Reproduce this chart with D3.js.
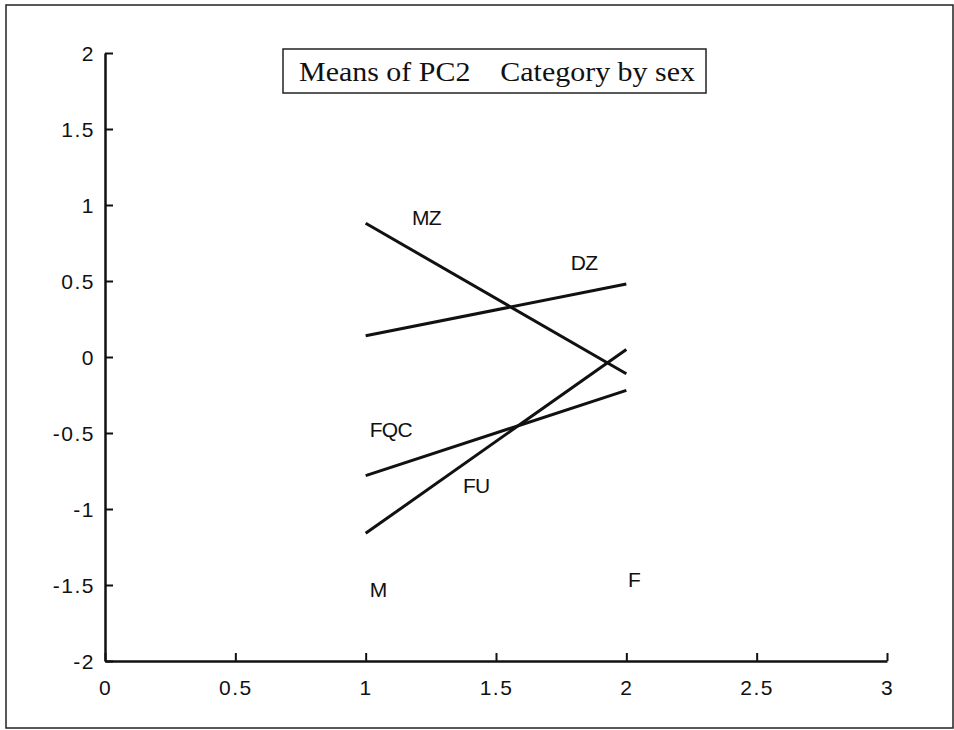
<!DOCTYPE html>
<html>
<head>
<meta charset="utf-8">
<script src="https://cdn.jsdelivr.net/npm/d3@7"></script>
<style>
  body { margin: 0; background: #fff; }
  svg text { font-family: "Liberation Sans", Arial, sans-serif; fill: #111; }
</style>
</head>
<body>
<div class="graph"></div>
<script>
// data
const sexes = [1, 2]            // M, F on x
const groups = ['MZ', 'DZ', 'FQC', 'FU']
const means = {
  MZ:  [0.88, -0.11],
  DZ:  [0.14, 0.48],
  FQC: [-0.78, -0.22],
  FU:  [-1.16, 0.05]
}
// label anchors (data units: left x, baseline y)
const labelText = ['MZ', 'DZ', 'FQC', 'FU', 'M', 'F']
const labelX = [1.178, 1.787, 1.016, 1.373, 1.016, 2.006]
const labelY = [0.868, 0.572, -0.526, -0.895, -1.579, -1.513]
const xTicks = [0, 0.5, 1, 1.5, 2, 2.5, 3]
const yTicks = [-2, -1.5, -1, -0.5, 0, 0.5, 1, 1.5, 2]
const title = 'Means of PC2    Category by sex'

const W = 954, H = 730

let svg = d3.select('.graph')
  .append('svg')
  .attr('width', W)
  .attr('height', H)

// outer frame
svg.append('rect')
  .attr('x', 6).attr('y', 5)
  .attr('width', 947).attr('height', 723)
  .attr('fill', 'none')
  .attr('stroke', '#222')
  .attr('stroke-width', 1.5)

let x = d3.scaleLinear().domain([0, 3]).range([105, 887])
let y = d3.scaleLinear().domain([-2, 2]).range([661, 53])

// plain hyphen for negatives, like the original
let fmt = function (d) { return String(d) }

// axes: ticks point inward
let xAxis = d3.axisBottom(x).tickValues(xTicks).tickSizeInner(-8).tickSizeOuter(0)
  .tickPadding(19).tickFormat(fmt)
let yAxis = d3.axisLeft(y).tickValues(yTicks).tickSizeInner(-8).tickSizeOuter(0)
  .tickPadding(10).tickFormat(fmt)

let gx = svg.append('g').attr('transform', 'translate(0,' + y(-2) + ')').call(xAxis)
let gy = svg.append('g').attr('transform', 'translate(' + x(0) + ',0)').call(yAxis)

;[gx, gy].forEach(g => {
  g.attr('font-size', null).attr('font-family', null)
  g.select('.domain').attr('stroke', '#111').attr('stroke-width', 2.5)
  g.selectAll('.tick line').attr('stroke', '#111').attr('stroke-width', 2)
  g.selectAll('.tick text')
    .attr('fill', '#111')
    .style('font-size', '21px')
    .style('letter-spacing', '1.5px')
})
gx.selectAll('.tick text').attr('dy', '0.71em')
gy.selectAll('.tick text').attr('dy', '0.36em')

// lines
let line = d3.line()
  .x(function (d, i) { return x(sexes[i]) })
  .y(function (d) { return y(d) })

svg.selectAll('path.mean')
  .data(groups)
  .enter()
  .append('path')
  .attr('class', 'mean')
  .attr('d', function (g) { return line(means[g]) })
  .attr('fill', 'none')
  .attr('stroke', '#111')
  .attr('stroke-width', 3)

// labels
svg.selectAll('text.lab')
  .data(labelText)
  .enter()
  .append('text')
  .attr('class', 'lab')
  .attr('x', function (d, i) { return x(labelX[i]) })
  .attr('y', function (d, i) { return y(labelY[i]) })
  .style('font-size', '21px')
  .style('letter-spacing', function (d) { return d.length > 1 ? '-0.8px' : '0px' })
  .text(function (d) { return d })

// title box
svg.append('rect')
  .attr('x', 283).attr('y', 49)
  .attr('width', 423).attr('height', 44)
  .attr('fill', '#fff')
  .attr('stroke', '#222')
  .attr('stroke-width', 1.5)

svg.append('text')
  .attr('x', 299).attr('y', 81)
  .attr('textLength', 396)
  .attr('lengthAdjust', 'spacingAndGlyphs')
  .style('font-family', '"Liberation Serif", "Times New Roman", serif')
  .style('font-size', '27px')
  .style('white-space', 'pre')
  .text(title)
</script>
</body>
</html>
